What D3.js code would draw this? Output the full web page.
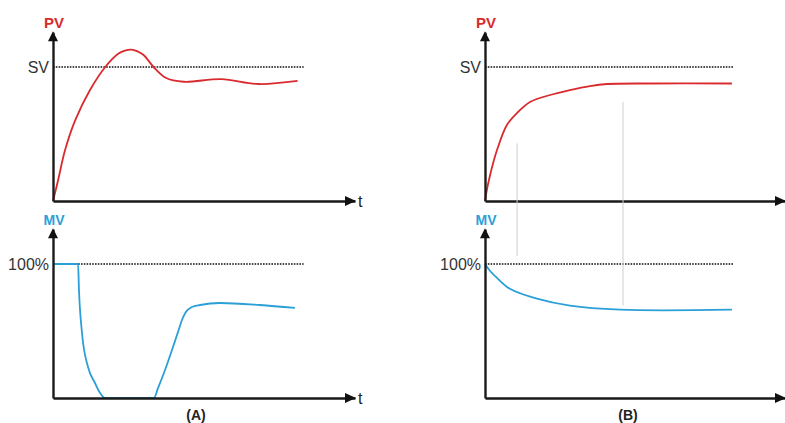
<!DOCTYPE html>
<html>
<head>
<meta charset="utf-8">
<script src="https://cdn.jsdelivr.net/npm/d3@7"></script>
<style>
  body { margin: 0; background: #fff; }
  svg text { font-family: "Liberation Sans", Arial, sans-serif; }
  .axis path { stroke: #1a1a1a; stroke-width: 2.4px; }
  .axis text { fill: #333; font-size: 16px; }
</style>
</head>
<body>
<script>
// panel labels and reference tick labels
var panels = ["(A)", "(B)"];
var pvTick = "SV", mvTick = "100%";

// (A) PV response, time 0..100, value in % of SV
var pvA_t = [0, 1.7, 4, 7.3, 12.3, 17.3, 21.7, 23.8, 26, 27.8, 30, 33.3, 37.3, 43.3, 55.7, 68, 81];
var pvA_v = [0, 15.7, 38, 60, 83, 100, 110, 112.3, 113, 111.9, 109, 100, 92, 89, 91, 87.3, 89.6];
// (A) MV output, % of full
var mvA_t = [0, 8.3, 8.6, 9.6, 11.6, 13.9, 15.6, 17.2, 33.4, 34.8, 37.1, 39.4, 41.4, 42.7, 44, 46, 48.7, 55.3, 68.5, 80.1];
var mvA_v = [100, 100, 80.6, 48.5, 23.1, 11.2, 3.7, 0, 0, 7.5, 20.9, 35.8, 49.3, 58.2, 64.2, 67.9, 69.4, 70.9, 69.4, 67.2];
// (B) PV response
var pvB_t = [0, 0.3, 1.7, 4, 7.3, 10.7, 15, 21.7, 28.3, 35, 40.7, 55, 82.3];
var pvB_v = [0, 4.5, 19.4, 38, 56.7, 65.7, 73.9, 79.1, 82.8, 85.8, 87.3, 87.7, 87.7];
// (B) MV output
var mvB_t = [0, 1.7, 4, 8.3, 17.3, 28.3, 45, 82.3];
var mvB_v = [100, 94.8, 89.6, 81.5, 74.1, 68.9, 65.9, 65.9];
// faint guide strokes in (B): time, top (PV value), bottom (MV value)
var guideT = [10.7, 46];
var guideTop = [43, 74];
var guideBottom = [106, 69];

var refEnd = 83;     // dotted reference lines end
var axisTop = 126;   // arrow tip in value units

var red = "#d92b2f", blue = "#2a9fd8";

var svg = d3.select("body").append("svg")
    .attr("width", 785)
    .attr("height", 423);

function zip(t, v){ return t.map(function(d, i){ return [d, v[i]]; }); }

function drawPanel(cfg){
    var x = d3.scaleLinear().domain([0, 100]).range([cfg.x0, cfg.x1]);
    var yPV = d3.scaleLinear().domain([0, axisTop]).range([201, 201 - axisTop * 1.34]);
    var yMV = d3.scaleLinear().domain([0, axisTop]).range([398, 398 - axisTop * 1.34]);

    var rows = [
        {y: yPV, data: zip(cfg.pvT, cfg.pvV), color: red, name: "PV", tick: pvTick, curve: d3.curveCatmullRom.alpha(0.5)},
        {y: yMV, data: zip(cfg.mvT, cfg.mvV), color: blue, name: "MV", tick: mvTick, curve: cfg.mvCurve}
    ];

    rows.forEach(function(r){
        var g = svg.append("g");

        //dotted reference
        g.append("line")
            .attr("x1", x(0)).attr("x2", x(refEnd))
            .attr("y1", r.y(100)).attr("y2", r.y(100))
            .attr("stroke", "#111")
            .attr("stroke-width", 1.6)
            .attr("stroke-dasharray", "1.6,1.2");

        //curve
        var line = d3.line()
            .x(function(d){ return x(d[0]); })
            .y(function(d){ return r.y(d[1]); })
            .curve(r.curve);
        g.append("path")
            .datum(r.data)
            .attr("d", line)
            .attr("fill", "none")
            .attr("stroke", r.color)
            .attr("stroke-width", 1.8);

        //axes
        g.append("g")
            .attr("class", "axis")
            .attr("transform", "translate(" + x(0) + ",0)")
            .call(d3.axisLeft(r.y).tickValues([100]).tickFormat(function(){ return r.tick; })
                .tickSize(0).tickSizeOuter(0).tickPadding(4))
            .call(function(a){ a.selectAll("text").attr("dy", "0.36em"); });
        g.append("g")
            .attr("class", "axis")
            .attr("transform", "translate(0," + r.y(0) + ")")
            .call(d3.axisBottom(x).tickValues([]).tickSizeOuter(0));

        //arrow heads
        var tipY = r.y(axisTop), tipX = x(100), y0 = r.y(0);
        g.append("path")
            .attr("d", "M" + x(0) + "," + (tipY - 1) + "l5,10h-10z")
            .attr("fill", "#111");
        g.append("path")
            .attr("d", "M" + (tipX + 1) + "," + y0 + "l-11,-5v10z")
            .attr("fill", "#111");
        if (cfg.showT) {
            g.append("text")
                .attr("x", tipX + 3).attr("y", y0 + 6)
                .attr("font-size", 16).attr("fill", "#222")
                .text("t");
        }

        //axis name
        g.append("text")
            .attr("x", x(0) + 1).attr("y", tipY - 4)
            .attr("text-anchor", "middle")
            .attr("font-size", r.name == "PV" ? 15 : 14)
            .attr("font-weight", "bold")
            .attr("fill", r.color)
            .text(r.name);
    });

    //faint guides
    if (cfg.guides) {
        guideT.forEach(function(t, i){
            svg.append("line")
                .attr("x1", x(t)).attr("x2", x(t))
                .attr("y1", yPV(guideTop[i])).attr("y2", yMV(guideBottom[i]))
                .attr("stroke", "#cfcfcf")
                .attr("stroke-width", 1);
        });
    }

    svg.append("text")
        .attr("x", cfg.labelX).attr("y", 420)
        .attr("text-anchor", "middle")
        .attr("font-size", 14)
        .attr("font-weight", "bold")
        .attr("fill", "#222")
        .text(cfg.label);
}

drawPanel({x0: 53, x1: 355, pvT: pvA_t, pvV: pvA_v, mvT: mvA_t, mvV: mvA_v,
    mvCurve: d3.curveMonotoneX, label: panels[0], labelX: 196, showT: true, guides: false});
drawPanel({x0: 485, x1: 785, pvT: pvB_t, pvV: pvB_v, mvT: mvB_t, mvV: mvB_v,
    mvCurve: d3.curveCatmullRom.alpha(0.5), label: panels[1], labelX: 628, showT: false, guides: true});
</script>
</body>
</html>
